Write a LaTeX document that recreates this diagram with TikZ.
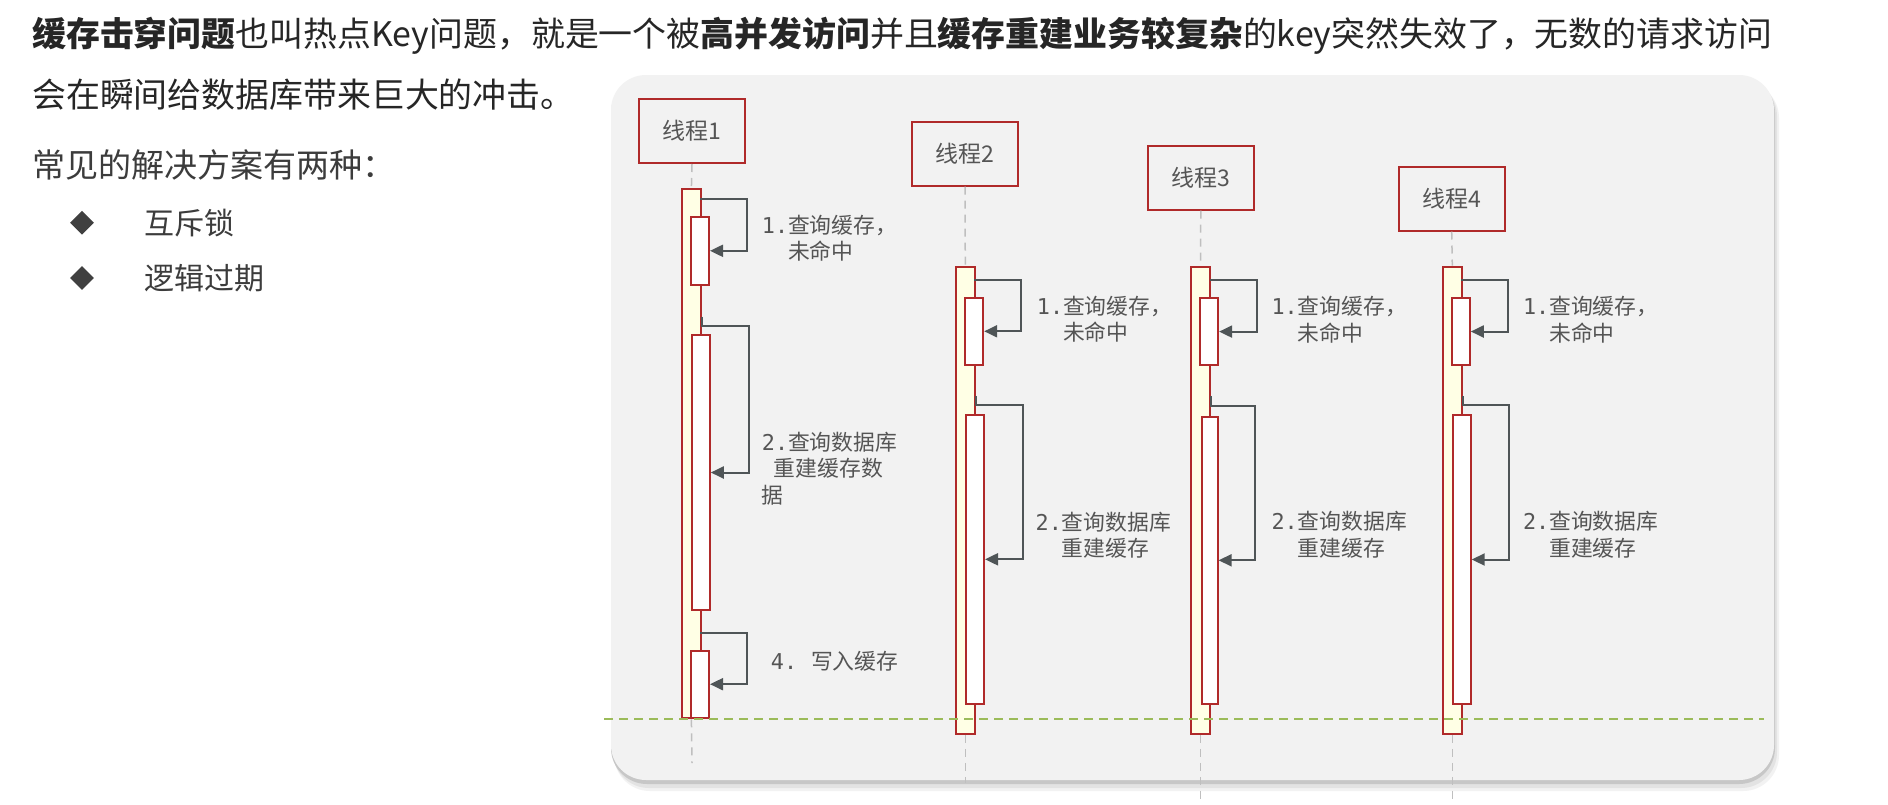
\documentclass[tikz,border=0pt]{standalone}
\usepackage{fontspec}
\setmainfont{Noto Sans CJK SC}
\newfontfamily\monof{DejaVu Sans Mono}
\usetikzlibrary{arrows.meta,shapes.geometric}
\definecolor{boxred}{HTML}{B02A2A}
\definecolor{barfill}{HTML}{FFFFE5}
\definecolor{arrgray}{HTML}{4F5557}
\definecolor{lifegray}{HTML}{BFBFBF}
\definecolor{labgray}{HTML}{555555}
\definecolor{dgreen}{HTML}{9BBB59}
\definecolor{panelbg}{HTML}{F2F2F2}
\definecolor{headtext}{HTML}{262626}
\tikzset{
  head/.style={anchor=west, inner sep=0, text=headtext, font=\fontsize{33.9}{40}\selectfont},
  sub/.style={anchor=west, inner sep=0, text=headtext!90, font=\fontsize{33}{38}\selectfont},
  item/.style={anchor=west, inner sep=0, text=headtext!90, font=\fontsize{30}{35}\selectfont},
  bullet/.style={diamond, fill=black!75, inner sep=0, minimum size=24pt},
  thread/.style={draw=boxred, line width=2pt, fill=panelbg, minimum width=106pt, minimum height=64pt, inner sep=0, text=labgray, font=\fontsize{23}{27}\selectfont},
  bar/.style={draw=boxred, line width=2pt, fill=barfill, minimum width=19pt, inner sep=0},
  act/.style={draw=boxred, line width=2pt, fill=white, inner sep=0, minimum width=18pt},
  msg/.style={draw=arrgray, line width=2pt, -{Triangle[length=13pt,width=12pt]}},
  life/.style={draw=lifegray, line width=1.5pt, dash pattern=on 8pt off 6pt},
  lab/.style={anchor=west, inner sep=0, text=labgray, align=left, font=\fontsize{21.8}{26.7}\selectfont},
  sep/.style={draw=dgreen, line width=1.8pt, dash pattern=on 9pt off 6pt},
}
\begin{document}
\begin{tikzpicture}[x=1pt,y=-1pt]
\useasboundingbox (0,0) rectangle (1888,804);
\fill[white] (0,0) rectangle (1888,804);
% heading text
\node[head] (h1) at (32,36) {\textbf{缓存击穿问题}也叫热点Key问题，就是一个被\textbf{高并发访问}并且\textbf{缓存重建业务较复杂}的key突然失效了，无数的请求访问};
\node[head] (h2) at (32,95) {会在瞬间给数据库带来巨大的冲击。};
\node[sub] (h3) at (32,165) {常见的解决方案有两种：};
\node[bullet] (d1) at (82,222.7) {};
\node[bullet] (d2) at (82,278) {};
\node[item] (i1) at (144.5,222.7) {互斥锁};
\node[item] (i2) at (144.5,278) {逻辑过期};
% panel with shadow
\fill[black!5, rounded corners=36pt] (614,82) rectangle (1779,791);
\fill[black!11, rounded corners=36pt] (613,80) rectangle (1777,788);
\fill[black!22, rounded corners=36pt] (611,77) rectangle (1775,784);
\fill[panelbg, rounded corners=35pt] (611,75) rectangle (1774,780);
% threads
\node[thread] (t1) at (692,131) {线程1};
\node[thread] (t2) at (965,153.5) {线程2};
\node[thread] (t3) at (1200.8,177.5) {线程3};
\node[thread] (t4) at (1451.7,198.5) {线程4};
% bars
\node[bar, minimum height=529pt] (b1) at (691.4,453.8) {};
\node[bar, minimum height=467.3pt] (b2) at (965.3,500.3) {};
\node[bar, minimum height=467.3pt] (b3) at (1200.5,500.3) {};
\node[bar, minimum height=467.3pt] (b4) at (1452.3,500.3) {};
% lifeline ends
\coordinate (e1) at (692,763);
\coordinate (e2) at (965.3,783);
\coordinate (e3) at (1200.5,804);
\coordinate (e4) at (1452.3,804);
\draw[life] (t1.south) -- (b1.north);
\draw[life] (t2.south) -- (b2.north);
\draw[life] (t3.south) -- (b3.north);
\draw[life] (t4.south) -- (b4.north);
\draw[life] (b1.south) -- (e1);
\draw[life] (b2.south) -- (e2);
\draw[life] (b3.south) -- (e3);
\draw[life] (b4.south) -- (e4);
% inner activations
\node[act, minimum height=68.3pt] (a1a) at (700,250.8) {};
\node[act, minimum height=275pt] (a1b) at (700.8,472.5) {};
\node[act, minimum height=67pt] (a1c) at (700,684.2) {};
\node[act, minimum height=67.3pt] (a2a) at (974.2,331.3) {};
\node[act, minimum height=289.3pt] (a2b) at (975,559.3) {};
\node[act, minimum height=66.7pt] (a3a) at (1209.1,331.6) {};
\node[act, minimum height=287.3pt, minimum width=16pt] (a3b) at (1209.6,560.3) {};
\node[act, minimum height=67pt] (a4a) at (1460.8,331.5) {};
\node[act, minimum height=289pt] (a4b) at (1461.7,559.5) {};
% loop messages
\coordinate (s1a) at (700,198.7);  \coordinate (c1a) at (746.7,250.8);
\draw[msg] (s1a) -| (c1a) -- (a1a.east);
\coordinate (k1b) at (701.7,316.7); \coordinate (s1b) at (701.7,325.7); \coordinate (c1b) at (748.7,472.5);
\draw[msg] (k1b) -- (s1b) -| (c1b) -- (a1b.east);
\coordinate (s1c) at (700,632.7);  \coordinate (c1c) at (746.7,684.2);
\draw[msg] (s1c) -| (c1c) -- (a1c.east);
\coordinate (s2a) at (974,280);  \coordinate (c2a) at (1020.7,331.3);
\draw[msg] (s2a) -| (c2a) -- (a2a.east);
\coordinate (k2b) at (976,396); \coordinate (s2b) at (976,405); \coordinate (c2b) at (1022.7,559.3);
\draw[msg] (k2b) -- (s2b) -| (c2b) -- (a2b.east);
\coordinate (s3a) at (1210,280);  \coordinate (c3a) at (1257,331.6);
\draw[msg] (s3a) -| (c3a) -- (a3a.east);
\coordinate (k3b) at (1211,396); \coordinate (s3b) at (1211,406); \coordinate (c3b) at (1255.3,560.3);
\draw[msg] (k3b) -- (s3b) -| (c3b) -- (a3b.east);
\coordinate (s4a) at (1461,280);  \coordinate (c4a) at (1507.5,331.5);
\draw[msg] (s4a) -| (c4a) -- (a4a.east);
\coordinate (k4b) at (1462.8,396); \coordinate (s4b) at (1462.8,405); \coordinate (c4b) at (1509.3,559.5);
\draw[msg] (k4b) -- (s4b) -| (c4b) -- (a4b.east);
% labels
\node[lab] (m1a) at (761.7,238.3) {{\monof 1.}查询缓存，\\\phantom{\monof 1.}未命中};
\node[lab] (m1b) at (761.7,468.5) {{\monof 2.}查询数据库\\\hspace*{12pt}重建缓存数\\据};
\node[lab] (m1c) at (770.7,661.7) {{\monof 4.}\hspace{14pt}写入缓存};
\node[lab] (m2a) at (1036.7,319.3) {{\monof 1.}查询缓存，\\\phantom{\monof 1.}未命中};
\node[lab] (m2b) at (1035.5,535.3) {{\monof 2.}查询数据库\\\phantom{\monof 2.}重建缓存};
\node[lab] (m3a) at (1271.4,319.5) {{\monof 1.}查询缓存，\\\phantom{\monof 1.}未命中};
\node[lab] (m3b) at (1271.4,535) {{\monof 2.}查询数据库\\\phantom{\monof 2.}重建缓存};
\node[lab] (m4a) at (1522.8,319.5) {{\monof 1.}查询缓存，\\\phantom{\monof 1.}未命中};
\node[lab] (m4b) at (1522.8,535) {{\monof 2.}查询数据库\\\phantom{\monof 2.}重建缓存};
% separator
\coordinate (g1) at (604,719);
\coordinate (g2) at (1764,719);
\draw[sep] (g1) -- (g2);
\end{tikzpicture}
\end{document}
